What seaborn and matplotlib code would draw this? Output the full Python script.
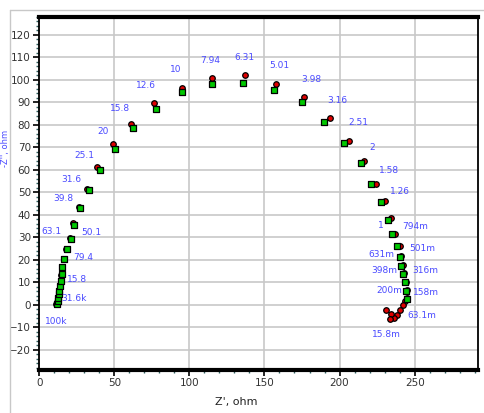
import matplotlib
matplotlib.use("Agg")
import matplotlib.pyplot as plt
import seaborn as sns
import pandas as pd
from matplotlib.lines import Line2D
from matplotlib.ticker import MultipleLocator

# Nyquist plot, two runs (red circles, green squares)
red_x = [11.5, 11.9, 12.4, 12.9, 13.3, 13.8, 14.3, 14.8, 15.3, 16.5, 18.0, 20.6,
         22.8, 26.8, 32.1, 38.8, 49.4, 61.2, 76.5, 95.3, 115.2, 137.0, 157.6,
         176.4, 193.5, 206.1, 216.3, 224.5, 230.0, 234.5, 236.7, 240.0, 241.0,
         242.0, 243.0, 244.3, 245.0, 245.2, 243.8, 242.2, 240.5, 238.2, 236.0,
         234.0, 233.4, 231.2]
red_y = [0.2, 1.2, 2.6, 4.2, 6.0, 8.2, 10.5, 13.4, 16.5, 20.4, 24.9, 29.8,
         36.3, 43.6, 51.4, 61.1, 71.7, 80.5, 89.6, 96.3, 100.7, 102.2, 98.1,
         92.2, 83.0, 72.8, 63.9, 53.6, 46.3, 38.6, 31.7, 26.1, 21.8,
         17.6, 14.0, 10.3, 6.6, 3.0, 1.9, -0.3, -2.5, -4.7, -5.7,
         -4.0, -6.2, -2.5]

green_x = [11.8, 12.2, 12.8, 13.2, 13.5, 14.0, 14.6, 15.0, 15.5, 16.8, 18.4, 21.1,
           23.3, 27.3, 33.2, 40.6, 50.5, 62.7, 77.6, 95.3, 115.2, 135.8, 156.3,
           174.7, 189.5, 202.8, 214.1, 221.2, 227.4, 232.3, 235.1, 238.5, 240.0,
           241.2, 242.2, 243.8, 244.5, 244.9]
green_y = [0.4, 1.5, 3.0, 4.6, 6.3, 8.5, 10.7, 13.5, 16.6, 20.3, 24.7, 29.4,
           35.7, 43.0, 51.0, 59.9, 69.5, 78.7, 87.2, 94.7, 98.1, 98.8, 95.5,
           90.0, 81.5, 71.9, 62.9, 53.6, 45.5, 37.9, 31.3, 26.1, 21.3,
           17.3, 13.7, 10.0, 6.3, 2.6]

# frequency labels
freq_labels = ["100k", "31.6k", "15.8", "79.4", "63.1", "50.1", "39.8", "31.6",
               "25.1", "20", "15.8", "12.6", "10", "7.94", "6.31", "5.01", "3.98",
               "3.16", "2.51", "2", "1.58", "1.26", "1", "794m", "501m", "631m",
               "398m", "316m", "200m", "158m", "63.1m", "15.8m"]
label_x = [11.3, 23.3, 25.5, 29.5, 8.4, 34.4, 15.8, 21.3,
           30.1, 42.8, 53.9, 70.9, 90.9, 114.2, 136.5, 159.8, 181.3,
           198.3, 212.8, 221.9, 232.7, 240.0, 227.2, 250.4, 254.9, 227.8,
           230.0, 257.1, 233.4, 257.8, 254.9, 231.2]
label_y = [-7.2, 2.6, 11.1, 21.0, 32.7, 32.0, 47.4, 55.9,
           66.5, 77.1, 87.1, 97.4, 104.7, 108.8, 109.8, 106.6, 100.3,
           90.7, 81.2, 69.9, 59.6, 50.4, 35.4, 34.7, 25.1, 22.5,
           15.1, 15.1, 6.3, 5.3, -4.7, -13.2]

red = pd.DataFrame({"x": red_x, "y": red_y})
green = pd.DataFrame({"x": green_x, "y": green_y})

sns.set_style("white")
fig = plt.figure(figsize=(4.84, 4.13), dpi=100)
ax = fig.add_axes([0.081, 0.104, 0.906, 0.855])

ax.grid(True, color="#c8c8c8", linewidth=1.2, zorder=0)
ax.set_axisbelow(True)

sns.scatterplot(data=red, x="x", y="y", ax=ax, marker="o", s=16, color="#e00000",
                edgecolor="black", linewidth=0.9, zorder=3)
sns.scatterplot(data=green, x="x", y="y", ax=ax, marker="s", s=14, color="#00c800",
                edgecolor="black", linewidth=0.9, zorder=4)

for t, lx, ly in zip(freq_labels, label_x, label_y):
    ax.text(lx, ly, t, color="#4a4aff", fontsize=6.5, ha="center", va="center", zorder=5)

ax.set_xlim(0, 292)
ax.set_ylim(-29, 128)
ax.xaxis.set_major_locator(MultipleLocator(50))
ax.xaxis.set_minor_locator(MultipleLocator(10))
ax.yaxis.set_major_locator(MultipleLocator(10))
ax.yaxis.set_minor_locator(MultipleLocator(2))
ax.set_yticks(range(-20, 130, 10))
ax.tick_params(axis="both", which="major", direction="out", length=4, width=1.2,
               color="black", labelsize=7.5, labelcolor="#333333", pad=2)
ax.tick_params(axis="both", which="minor", direction="out", length=2, width=1,
               color="#2f6060")
ax.tick_params(bottom=True, left=True, which="both")

for side in ["top", "bottom"]:
    ax.spines[side].set_linewidth(3)
    ax.spines[side].set_color("black")
for side in ["left", "right"]:
    ax.spines[side].set_linewidth(1.3)
    ax.spines[side].set_color("black")

ax.set_xlabel("Z', ohm", fontsize=8, color="#222222", labelpad=8)
ax.xaxis.set_label_coords(0.45, -0.075)
ax.set_ylabel("")
fig.text(0.012, 0.64, "-Z'', ohm", rotation=90, color="#4a4aff", fontsize=6,
         ha="center", va="center")

# outer frame of the original window
fig.add_artist(Line2D([10 / 484, 10 / 484], [0, 1 - 10 / 413], color="#c8c8c8",
                      linewidth=1, transform=fig.transFigure))
fig.add_artist(Line2D([10 / 484, 1], [1 - 10 / 413, 1 - 10 / 413], color="#c8c8c8",
                      linewidth=1, transform=fig.transFigure))

fig.savefig("out.png", dpi=100)
